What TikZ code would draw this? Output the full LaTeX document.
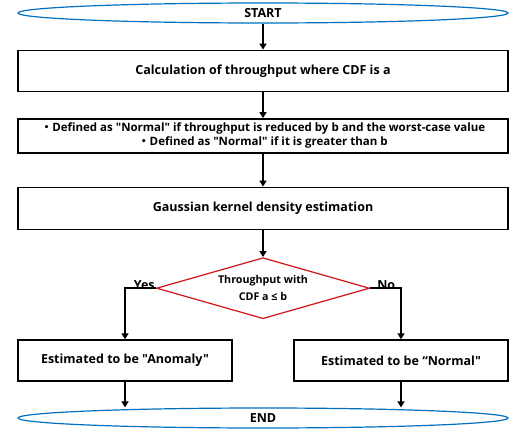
\documentclass[tikz,border=0pt]{standalone}
\usepackage{fontspec}
\setmainfont{Open Sans}[Ligatures=TeXOff]
\newfontfamily\cjk{Noto Sans CJK JP}
\usetikzlibrary{arrows.meta,positioning,shapes.geometric}
\definecolor{termblue}{RGB}{0,112,192}
\definecolor{decred}{RGB}{210,20,20}
\begin{document}
\begin{tikzpicture}[
    x=1pt, y=1pt,
    font=\bfseries\fontsize{12.5}{15}\selectfont,
    terminal/.style={draw=termblue, line width=1.2pt, ellipse, inner sep=0pt, minimum width=490pt, minimum height=20pt},
    stepbox/.style={draw, line width=1.5pt, align=center, inner sep=0pt, minimum width=490pt},
    decision/.style={draw=decred, line width=1.2pt, diamond, aspect=3.5, inner sep=0pt, minimum width=213pt, minimum height=61pt, align=center, font=\bfseries\fontsize{10.7}{17}\selectfont},
    answer/.style={inner sep=0pt, font=\bfseries\fontsize{12.5}{15}\selectfont},
    arr/.style={-{Triangle[length=6pt,width=7pt]}, line width=2pt},
    >=Stealth
]
\useasboundingbox (0,0) rectangle (517,-434);
\node[terminal] (start) at (263,-13) {START};
\node[stepbox, minimum height=41pt, below=26pt of start] (cdf) {Calculation of throughput where CDF is a};
\node[stepbox, minimum height=34pt, below=26pt of cdf, font=\bfseries\fontsize{11.5}{14}\selectfont] (define) {{\cjk ・}Defined as "Normal" if throughput is reduced by b and the worst-case value\\{\cjk ・}Defined as "Normal" if it is greater than b};
\node[stepbox, minimum height=42pt, below=33pt of define] (kde) {Gaussian kernel density estimation};
\node[decision, below=27pt of kde] (check) {Throughput with\\CDF a ≤ b};
\node[stepbox, minimum width=214pt, minimum height=41pt] (anomaly) at (125,-360.5) {Estimated to be "Anomaly"};
\node[stepbox, minimum width=214pt, minimum height=41pt] (normal) at (401,-360.5) {Estimated to be “Normal"};
\node[terminal] (finish) at (263,-418) {END};
\node[answer, anchor=base east, xshift=-1pt, yshift=-1pt] (yes) at (check.west) {Yes};
\node[answer, anchor=base west, xshift=7pt, yshift=-1pt] (no) at (check.east) {No};
\draw[arr] (start) -- (cdf);
\draw[arr] (cdf) -- (define);
\draw[arr] (define) -- (kde);
\draw[arr] (kde) -- (check);
\draw[arr] (check.west) -| (anomaly.north);
\draw[arr] (check.east) -| (normal.north);
\draw[arr] (anomaly.south) -- (anomaly.south |- finish.north);
\draw[arr] (normal.south) -- (normal.south |- finish.north);
\end{tikzpicture}
\end{document}
